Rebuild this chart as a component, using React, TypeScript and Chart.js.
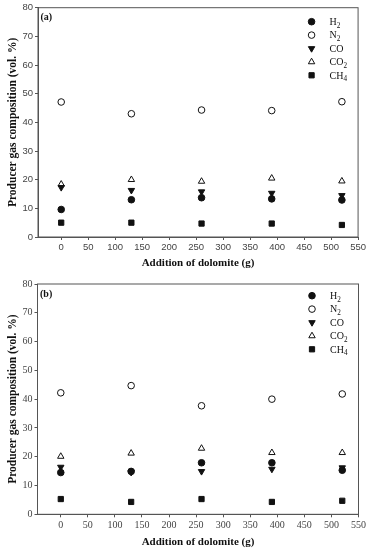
import React, { useEffect, useRef } from "react";
import { Chart, registerables } from "chart.js";

Chart.register(...registerables);

// Dolomite additions (g) and axis ticks
const dolomite = [0, 130, 260, 390, 520];
const xTickValues = [0, 50, 100, 150, 200, 250, 300, 350, 400, 450, 500, 550];
const yTickValues = [0, 10, 20, 30, 40, 50, 60, 70, 80];

const gasNames = ["H2", "N2", "CO", "CO2", "CH4"];

// Panel (a) compositions (vol. %)
const h2A = [9.6, 13.0, 13.7, 13.3, 12.9];
const n2A = [47.1, 43.0, 44.3, 44.1, 47.2];
const coA = [17.3, 16.3, 15.8, 15.3, 14.5];
const co2A = [18.4, 20.0, 19.4, 20.5, 19.5];
const ch4A = [5.0, 5.0, 4.7, 4.7, 4.2];

// Panel (b) compositions (vol. %)
const h2B = [14.5, 14.9, 17.9, 17.9, 15.3];
const n2B = [42.2, 44.7, 37.7, 40.0, 41.8];
const coB = [16.4, 14.6, 14.9, 15.7, 16.2];
const co2B = [20.1, 21.2, 22.9, 21.4, 21.4];
const ch4B = [5.3, 4.3, 5.3, 4.3, 4.7];

const SERIF = "'Liberation Serif', 'Times New Roman', serif";
const SANS = "'Liberation Sans', Arial, sans-serif";
const W = 368;
const H = 275;
const INK = "#111";
const FRAME = "#555";

type MarkerStyle = { style: string; filled: boolean; rotation: number; radius: number };
const markers: MarkerStyle[] = [
  { style: "circle", filled: true, rotation: 0, radius: 3.3 },
  { style: "circle", filled: false, rotation: 0, radius: 3.3 },
  { style: "triangle", filled: true, rotation: 180, radius: 3.7 },
  { style: "triangle", filled: false, rotation: 0, radius: 3.7 },
  { style: "rect", filled: true, rotation: 0, radius: 3.7 },
];

function drawMarker(ctx: CanvasRenderingContext2D, m: MarkerStyle, x: number, y: number) {
  ctx.save();
  ctx.beginPath();
  const r = m.radius;
  if (m.style === "circle") {
    ctx.arc(x, y, r, 0, Math.PI * 2);
  } else if (m.style === "triangle") {
    let rad = (m.rotation * Math.PI) / 180;
    ctx.moveTo(x + Math.sin(rad) * r, y - Math.cos(rad) * r);
    rad += (2 * Math.PI) / 3;
    ctx.lineTo(x + Math.sin(rad) * r, y - Math.cos(rad) * r);
    rad += (2 * Math.PI) / 3;
    ctx.lineTo(x + Math.sin(rad) * r, y - Math.cos(rad) * r);
    ctx.closePath();
  } else {
    const s = Math.SQRT1_2 * r;
    ctx.rect(x - s, y - s, 2 * s, 2 * s);
  }
  ctx.lineWidth = 1;
  ctx.strokeStyle = INK;
  ctx.fillStyle = m.filled ? INK : "#fff";
  ctx.fill();
  ctx.stroke();
  ctx.restore();
}

// Chemical formula with subscript digits
function drawFormula(ctx: CanvasRenderingContext2D, text: string, x: number, y: number, size: number) {
  let cx = x;
  for (const ch of text) {
    const isDigit = /[0-9]/.test(ch);
    ctx.font = `${isDigit ? size * 0.72 : size}px ${SERIF}`;
    ctx.textBaseline = "alphabetic";
    ctx.fillText(ch, cx, isDigit ? y + size * 0.28 : y);
    cx += ctx.measureText(ch).width;
  }
}

type PanelProps = {
  tag: string;
  series: number[][];
  tickFamily: string;
  tickSize: number;
  areaTop: number;
  areaBottom: number;
  areaLeft: number;
  legendTop: number;
  xTitlePad: number;
};

function Panel(props: PanelProps) {
  const ref = useRef<HTMLCanvasElement | null>(null);
  useEffect(() => {
    const canvas = ref.current;
    if (!canvas) return;
    const { tag, series, tickFamily, tickSize, areaTop, areaBottom, areaLeft, legendTop, xTitlePad } = props;

    const decor = {
      id: "decor",
      beforeDatasetsDraw(chart: any) {
        const { ctx, chartArea } = chart;
        ctx.save();
        ctx.strokeStyle = FRAME;
        ctx.lineWidth = 1;
        ctx.strokeRect(chartArea.left, chartArea.top, chartArea.right - chartArea.left, chartArea.bottom - chartArea.top);
        ctx.fillStyle = INK;
        ctx.font = `bold 10px ${SERIF}`;
        ctx.textBaseline = "middle";
        ctx.textAlign = "left";
        ctx.fillText(tag, chartArea.left + 2.5, chartArea.top + 10);
        ctx.restore();
      },
      afterDatasetsDraw(chart: any) {
        const { ctx, chartArea } = chart;
        ctx.save();
        ctx.fillStyle = INK;
        ctx.textAlign = "left";
        gasNames.forEach((name, i) => {
          const y = legendTop + i * 13.4;
          drawMarker(ctx, markers[i], chartArea.right - 46.5, y);
          drawFormula(ctx, name, chartArea.right - 28.5, y + 3.2, 10);
        });
        ctx.restore();
      },
    };

    const datasets = series.map((vals, i) => {
      const m = markers[i];
      return {
        label: gasNames[i],
        data: dolomite.map((x, j) => ({ x, y: vals[j] })),
        pointStyle: m.style,
        rotation: m.rotation,
        pointRadius: m.radius,
        pointBorderWidth: 1,
        borderColor: INK,
        backgroundColor: m.filled ? INK : "#fff",
        showLine: false,
      };
    });

    const tickFont = { family: tickFamily, size: tickSize };
    const chart = new Chart(canvas, {
      type: "scatter",
      data: { datasets: datasets as any },
      options: {
        animation: false,
        responsive: false,
        maintainAspectRatio: false,
        layout: { padding: { top: areaTop, right: 8, left: 0, bottom: 0 } },
        plugins: { legend: { display: false }, tooltip: { enabled: false } },
        scales: {
          x: {
            type: "linear",
            min: -43,
            max: 550,
            afterBuildTicks: (s: any) => {
              s.ticks = xTickValues.map((v) => ({ value: v }));
            },
            afterFit: (s: any) => {
              s.height = H - areaBottom;
            },
            grid: { drawOnChartArea: false, drawTicks: true, tickLength: 3, color: FRAME },
            border: { color: FRAME },
            ticks: { font: tickFont, color: "#444", padding: 2, maxRotation: 0, autoSkip: false },
            title: {
              display: true,
              text: "Addition of dolomite (g)",
              font: { family: SERIF, weight: "bold", size: 11 },
              color: INK,
              padding: { top: 0, bottom: xTitlePad },
            },
          },
          y: {
            type: "linear",
            min: 0,
            max: 80,
            afterBuildTicks: (s: any) => {
              s.ticks = yTickValues.map((v) => ({ value: v }));
            },
            afterFit: (s: any) => {
              s.width = areaLeft;
            },
            grid: { drawOnChartArea: false, drawTicks: true, tickLength: 3, color: FRAME },
            border: { color: FRAME },
            ticks: { font: tickFont, color: "#444", padding: 2, autoSkip: false },
            title: {
              display: true,
              text: "Producer gas composition (vol. %)",
              font: { family: SERIF, weight: "bold", size: 11.5 },
              color: INK,
              padding: { top: 6.5, bottom: 0 },
            },
          },
        },
      } as any,
      plugins: [decor],
    });
    return () => chart.destroy();
  }, []);
  return <canvas ref={ref} width={W} height={H} style={{ display: "block", width: W, height: H }} />;
}

export default function App() {
  return (
    <div style={{ position: "fixed", left: 0, top: 0, width: W, height: 2 * H, background: "#fff" }}>
      <Panel
        tag="(a)"
        series={[h2A, n2A, coA, co2A, ch4A]}
        tickFamily={SANS}
        tickSize={9.5}
        areaTop={5}
        areaBottom={237}
        areaLeft={38}
        legendTop={21.7}
        xTitlePad={5}
      />
      <Panel
        tag="(b)"
        series={[h2B, n2B, coB, co2B, ch4B]}
        tickFamily={SERIF}
        tickSize={10}
        areaTop={9}
        areaBottom={239.3}
        areaLeft={37.5}
        legendTop={20.7}
        xTitlePad={1}
      />
    </div>
  );
}
